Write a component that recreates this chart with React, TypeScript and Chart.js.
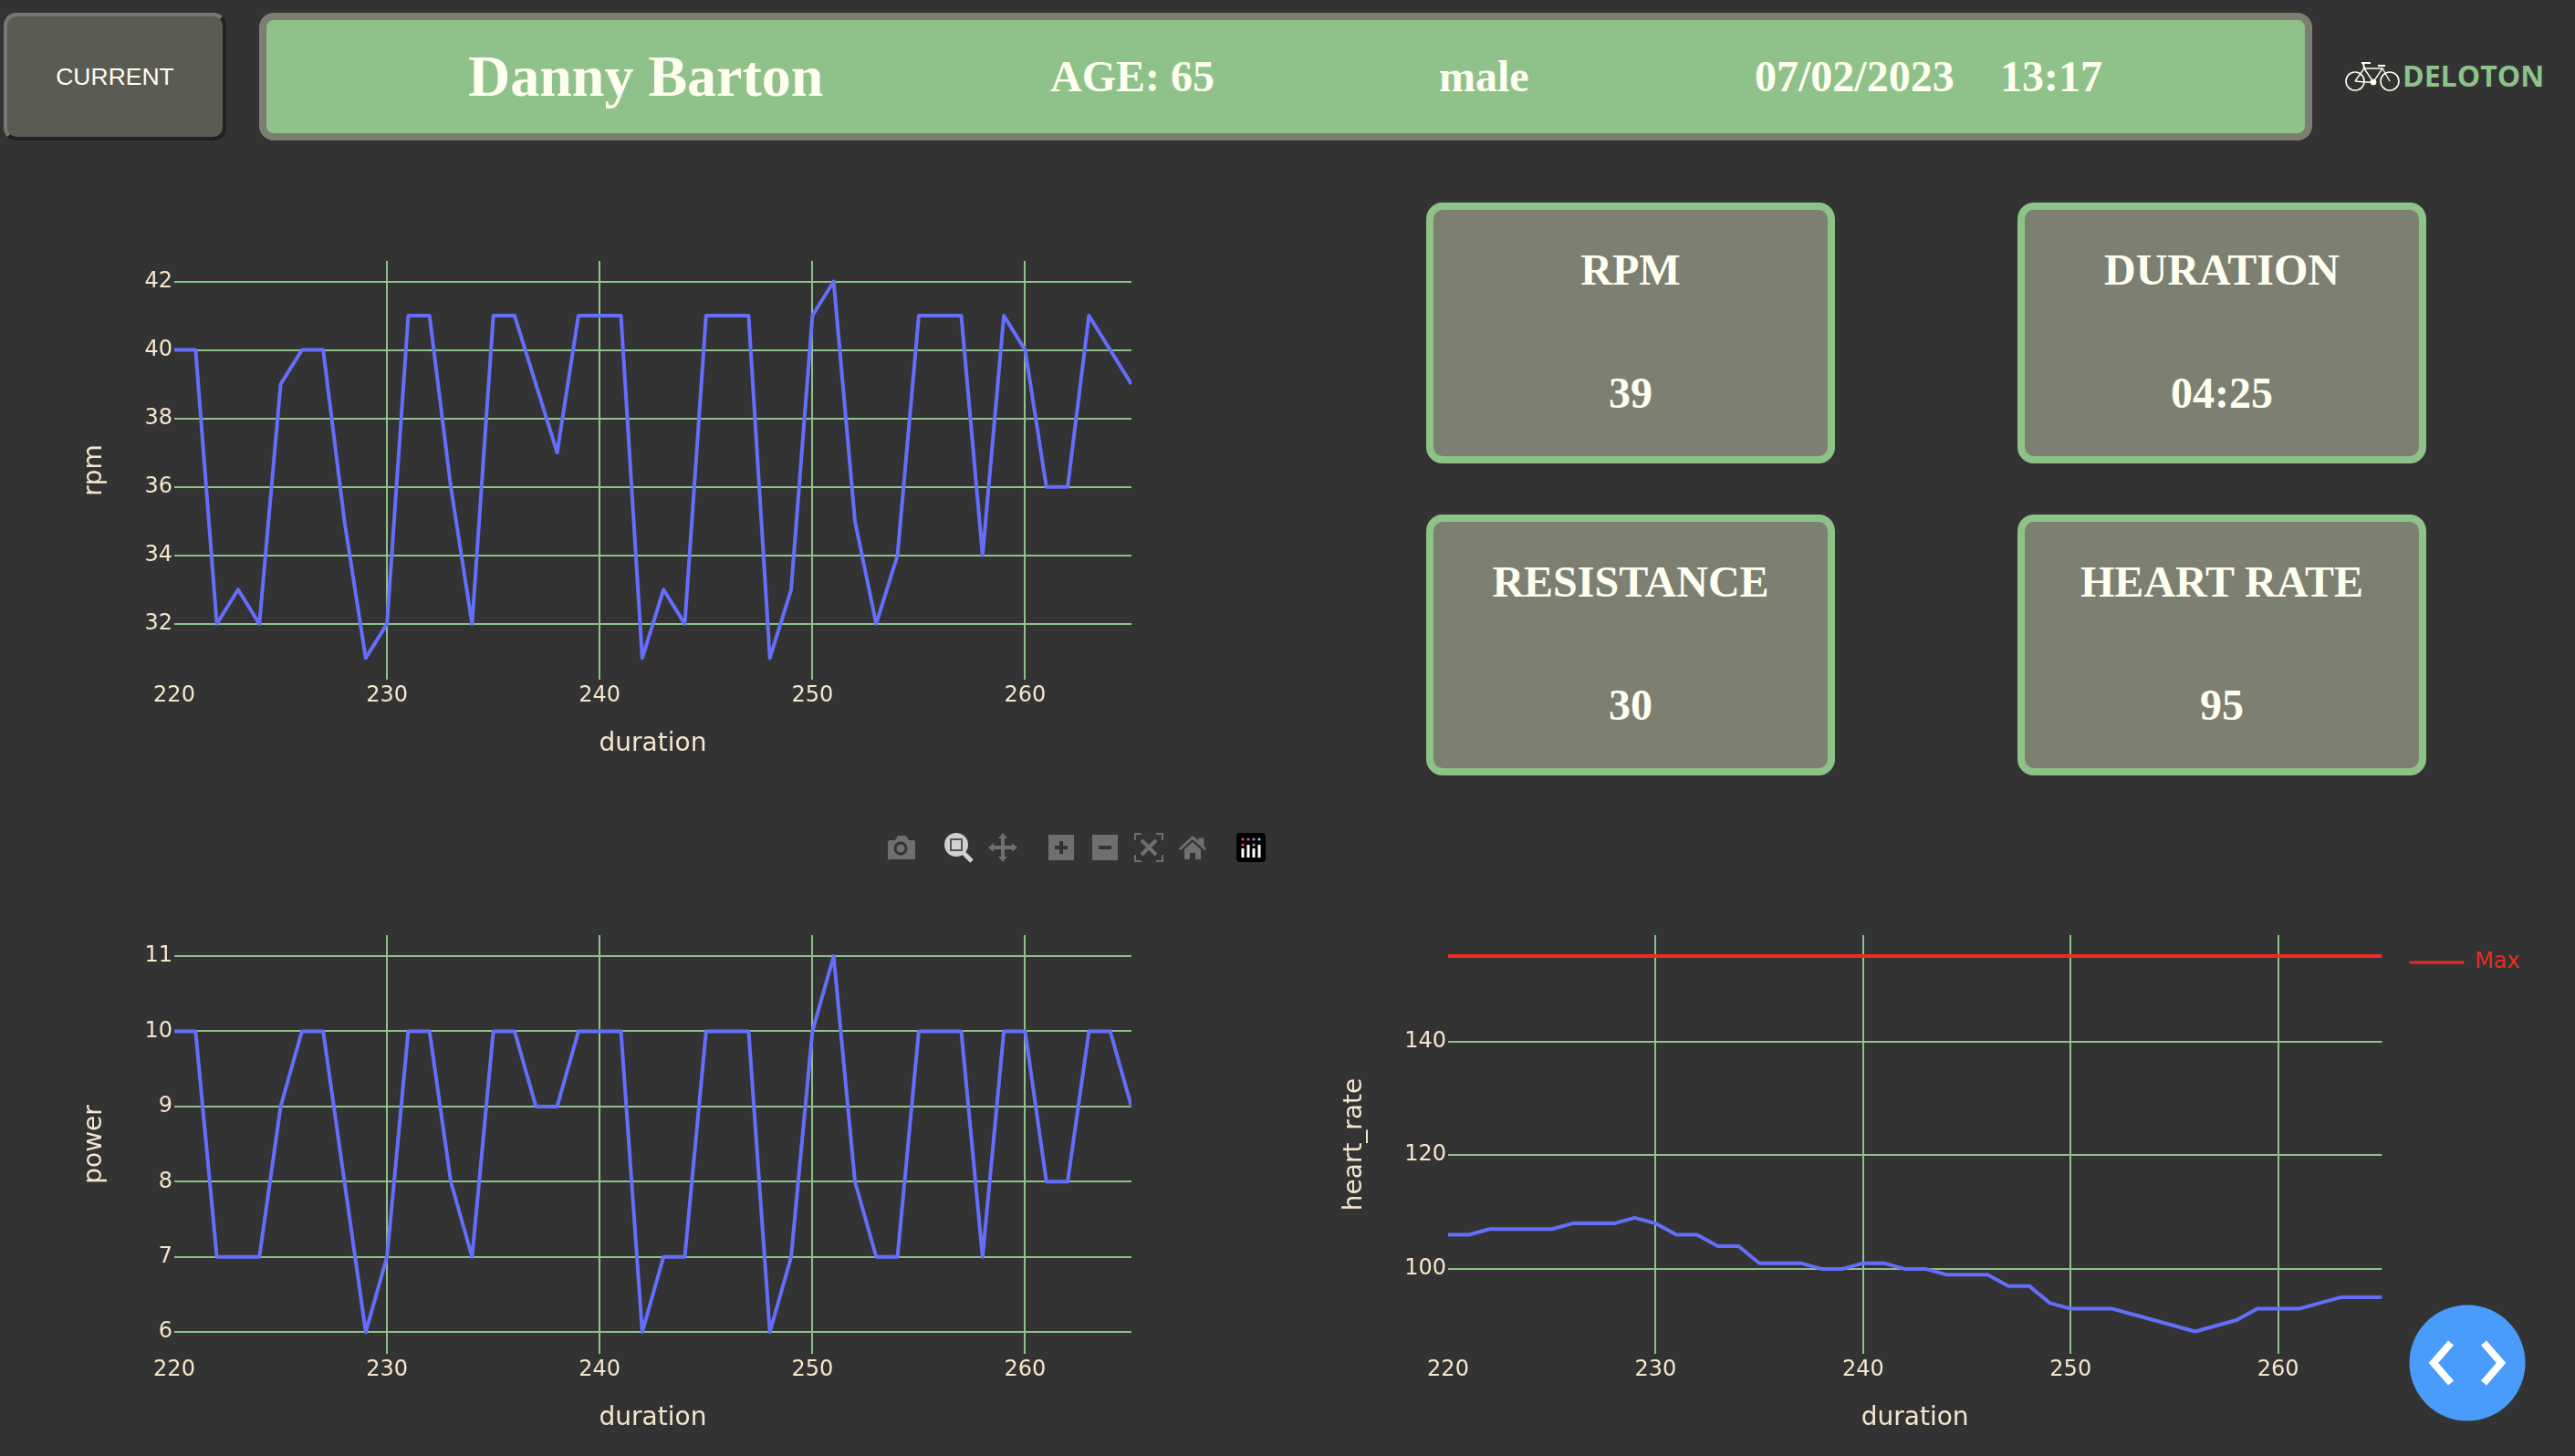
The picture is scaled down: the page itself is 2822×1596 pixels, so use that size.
import { Chart, registerables } from "chart.js"
import { useEffect, useRef } from "react"

Chart.register(...registerables)

const durations = [
	220, 221, 222, 223, 224, 225, 226, 227, 228, 229, 230, 231, 232, 233, 234, 235, 236, 237, 238, 239, 240, 241, 242,
	243, 244, 245, 246, 247, 248, 249, 250, 251, 252, 253, 254, 255, 256, 257, 258, 259, 260, 261, 262, 263, 264, 265
]
const rpmValues = [
	40, 40, 32, 33, 32, 39, 40, 40, 35, 31, 32, 41, 41, 36, 32, 41, 41, 39, 37, 41, 41, 41, 31, 33, 32, 41, 41, 41, 31,
	33, 41, 42, 35, 32, 34, 41, 41, 41, 34, 41, 40, 36, 36, 41, 40, 39
]
const powerValues = [
	10, 10, 7, 7, 7, 9, 10, 10, 8, 6, 7, 10, 10, 8, 7, 10, 10, 9, 9, 10, 10, 10, 6, 7, 7, 10, 10, 10, 6, 7, 10, 11, 8, 7,
	7, 10, 10, 10, 7, 10, 10, 8, 8, 10, 10, 9
]
const heartRateValues = [
	106, 106, 107, 107, 107, 107, 108, 108, 108, 109, 108, 106, 106, 104, 104, 101, 101, 101, 100, 100, 101, 101, 100,
	100, 99, 99, 99, 97, 97, 94, 93, 93, 93, 92, 91, 90, 89, 90, 91, 93, 93, 93, 94, 95, 95, 95
]
const maxDurations = [220, 265]
const maxValues = [155, 155]

const statCards = [
	{ title: "RPM", value: "39", left: 1563, top: 222 },
	{ title: "DURATION", value: "04:25", left: 2211, top: 222 },
	{ title: "RESISTANCE", value: "30", left: 1563, top: 564 },
	{ title: "HEART RATE", value: "95", left: 2211, top: 564 }
]
const headerTexts = [
	{ text: "Danny Barton", left: 513, size: 64 },
	{ text: "AGE: 65", left: 1151, size: 48 },
	{ text: "male", left: 1577, size: 48 },
	{ text: "07/02/2023", left: 1923, size: 48 },
	{ text: "13:17", left: 2192, size: 48 }
]

const LINE = "#636efa"
const RED = "#ee2d22"
const GRID = "#8dc289"
const CREAM = "#f5e6cc"
const IVORY = "#fffff0"
const FONT = '"DejaVu Sans", sans-serif'

function points(xs: number[], ys: number[]) {
	return xs.map((x, i) => ({ x, y: ys[i] }))
}

function LineChart({
	yLabel,
	values,
	yMin,
	yMax,
	yStep,
	left,
	top,
	width,
	height,
	axisWidth,
	withMax
}: {
	yLabel: string
	values: number[]
	yMin: number
	yMax: number
	yStep: number
	left: number
	top: number
	width: number
	height: number
	axisWidth: number
	withMax?: boolean
}) {
	const canvasRef = useRef<HTMLCanvasElement>(null)

	useEffect(() => {
		const ctx = canvasRef.current?.getContext("2d") as CanvasRenderingContext2D
		const datasets: any[] = [
			{
				label: yLabel,
				data: points(durations, values),
				borderColor: LINE,
				backgroundColor: LINE,
				borderWidth: 4,
				pointRadius: 0,
				borderJoinStyle: "round"
			}
		]
		if (withMax) {
			datasets.push({
				label: "Max",
				data: points(maxDurations, maxValues),
				borderColor: RED,
				backgroundColor: RED,
				borderWidth: 4,
				pointRadius: 0
			})
		}
		const chart = new Chart(ctx, {
			type: "line",
			data: { datasets },
			options: {
				animation: false,
				responsive: false,
				events: [],
				plugins: {
					title: withMax
						? { display: true, text: "", font: { size: 0 }, padding: { top: 0, bottom: 12 } }
						: { display: false },
					tooltip: { enabled: false },
					legend: {
						display: !!withMax,
						position: "right",
						align: "start",
						labels: {
							color: RED,
							font: { family: FONT, size: 24 },
							boxWidth: 60,
							boxHeight: 3,
							padding: 30,
							generateLabels: (c: any) =>
								Chart.defaults.plugins.legend.labels
									.generateLabels(c)
									.filter((item: any) => item.text === "Max")
									.map((item: any) => ({ ...item, lineWidth: 0 }))
						}
					}
				},
				scales: {
					x: {
						type: "linear",
						min: 220,
						max: 265,
						border: { display: false },
						grid: {
							color: (c: any) => (c.tick && c.tick.value === 220 ? "transparent" : GRID),
							lineWidth: 2,
							drawTicks: false
						},
						ticks: {
							stepSize: 10,
							includeBounds: false,
							maxRotation: 0,
							color: CREAM,
							padding: 3,
							font: { family: FONT, size: 24 }
						},
						title: {
							display: true,
							text: "duration",
							color: CREAM,
							padding: 0,
							font: { family: FONT, size: 28 }
						},
						afterFit: (scale: any) => {
							scale.height = 88
						}
					},
					y: {
						min: yMin,
						max: yMax,
						border: { display: false },
						grid: { color: GRID, lineWidth: 2, drawTicks: false },
						ticks: {
							stepSize: yStep,
							includeBounds: false,
							color: CREAM,
							padding: 2,
							font: { family: FONT, size: 24 }
						},
						title: {
							display: true,
							text: yLabel,
							color: CREAM,
							padding: 0,
							font: { family: FONT, size: 28 }
						},
						afterFit: (scale: any) => {
							scale.width = axisWidth
							scale.paddingTop = 0
							scale.paddingBottom = 0
						}
					}
				}
			}
		} as any)

		return () => {
			chart.destroy()
		}
	}, [])

	return (
		<canvas ref={canvasRef} width={width} height={height} style={{ position: "absolute", left, top, width, height }}>
			Your browser does not support the canvas element.
		</canvas>
	)
}

function ModeBar() {
	const grey = "#6f6f6f"
	return (
		<svg style={{ position: "absolute", left: 960, top: 905, width: 440, height: 50 }} viewBox="960 905 440 50">
			{/* camera */}
			<path
				d="M975 921h6l3-5h9l3 5h5a2 2 0 0 1 2 2v18a1 1 0 0 1-1 1h-27a1 1 0 0 1-2-1v-18a2 2 0 0 1 2-2z"
				fill={grey}
			/>
			<circle cx="987" cy="930" r="6" fill="none" stroke="#333" strokeWidth="3" />
			{/* zoom, active */}
			<circle cx="1048" cy="926" r="13" fill="#d0d0d0" />
			<rect x="1042" y="920" width="12" height="12" fill="#d0d0d0" stroke="#555" strokeWidth="2" />
			<path d="M1056 935l9 9" stroke="#d0d0d0" strokeWidth="5" />
			{/* pan */}
			<path
				d="M1099 913l5 6h-3v8h8v-3l6 5-6 5v-3h-8v8h3l-5 6-5-6h3v-8h-8v3l-6-5 6-5v3h8v-8h-3z"
				fill={grey}
			/>
			{/* zoom in, zoom out */}
			<rect x="1149" y="915" width="28" height="28" fill={grey} />
			<path d="M1163 922v14M1156 929h14" stroke="#333" strokeWidth="4" />
			<rect x="1197" y="915" width="28" height="28" fill={grey} />
			<path d="M1204 929h14" stroke="#333" strokeWidth="4" />
			{/* autoscale */}
			<path
				d="M1251 914h-7v7M1267 914h7v7M1251 944h-7v-7M1267 944h7v-7"
				fill="none"
				stroke={grey}
				strokeWidth="2"
			/>
			<path d="M1251 921l16 16M1267 921l-16 16" stroke={grey} strokeWidth="4" />
			{/* home */}
			<path d="M1293 931l14-13 8 7v-5h3v8l3 3" fill="none" stroke={grey} strokeWidth="3" />
			<path d="M1298 931l9-8 9 8v11h-6v-7h-6v7h-6z" fill={grey} />
			{/* plotly logo */}
			<rect x="1355" y="913" width="32" height="32" rx="4" fill="#000" />
			<path d="M1362 930v10M1368 926v14M1374 930v10M1380 926v14" stroke="#fff" strokeWidth="3" />
			<circle cx="1362" cy="920" r="1.6" fill="#ef476f" />
			<circle cx="1368" cy="920" r="1.6" fill="#e056a0" />
			<circle cx="1374" cy="920" r="1.6" fill="#a78bda" />
			<circle cx="1380" cy="920" r="1.6" fill="#7fd4f0" />
			<circle cx="1362" cy="926" r="1.6" fill="#ef476f" />
			<circle cx="1374" cy="926" r="1.6" fill="#a78bda" />
		</svg>
	)
}

function BikeLogo() {
	return (
		<svg
			style={{ position: "absolute", left: 2568, top: 64, width: 64, height: 38 }}
			viewBox="0 0 64 38"
			fill="none"
			stroke={IVORY}
		>
			<circle cx="13" cy="25" r="10" strokeWidth="1.6" />
			<circle cx="51" cy="25" r="10" strokeWidth="1.6" />
			<path d="M13 25L23 11H43L33 26H24L13 25M23 11l10 15M43 11l8 14" strokeWidth="1.4" />
			<path d="M20 5h10M22 5l1 6M38 8h8" strokeWidth="2" />
			<circle cx="33" cy="26" r="3" fill={IVORY} />
		</svg>
	)
}

export default function App() {
	useEffect(() => {
		document.body.style.margin = "0"
		document.body.style.background = "#333333"
	}, [])

	return (
		<div style={{ position: "absolute", left: 0, top: 0, width: 2822, height: 1596, background: "#333333", overflow: "hidden" }}>
			<div
				style={{
					position: "absolute",
					left: 4,
					top: 14,
					width: 244,
					height: 140,
					boxSizing: "border-box",
					background: "#5a5b53",
					borderRadius: 14,
					borderStyle: "solid",
					borderWidth: 4,
					borderColor: "#77786f #222222 #222222 #77786f",
					color: IVORY,
					font: '26.5px/132px "Liberation Sans", sans-serif',
					textAlign: "center"
				}}
			>
				CURRENT
			</div>

			<div
				style={{
					position: "absolute",
					left: 284,
					top: 14,
					width: 2250,
					height: 140,
					boxSizing: "border-box",
					background: "#8fc28a",
					border: "8px solid #7c7e70",
					borderRadius: 16
				}}
			/>
			{headerTexts.map((h) => (
				<span
					key={h.text}
					style={{
						position: "absolute",
						left: h.left,
						top: 44,
						font: `bold ${h.size}px/80px "Liberation Serif", serif`,
						color: IVORY,
						whiteSpace: "nowrap"
					}}
				>
					{h.text}
				</span>
			))}

			<BikeLogo />
			<span
				style={{
					position: "absolute",
					left: 2633,
					top: 63,
					font: 'bold 32px/40px "Open Sans", sans-serif',
					color: "#8dc289"
				}}
			>
				DELOTON
			</span>

			{statCards.map((c) => (
				<div
					key={c.title}
					style={{
						position: "absolute",
						left: c.left,
						top: c.top,
						width: 448,
						height: 286,
						boxSizing: "border-box",
						background: "#7d7f71",
						border: "8px solid #8dc289",
						borderRadius: 18,
						color: IVORY,
						textAlign: "center",
						font: 'bold 48px/60px "Liberation Serif", serif'
					}}
				>
					<div style={{ position: "absolute", left: 0, right: 0, top: 36 }}>{c.title}</div>
					<div style={{ position: "absolute", left: 0, right: 0, top: 171 }}>{c.value}</div>
				</div>
			))}

			<LineChart
				yLabel="rpm"
				values={rpmValues}
				yMin={30.37}
				yMax={42.6}
				yStep={2}
				left={87}
				top={286}
				width={1153}
				height={547}
				axisWidth={104}
			/>
			<LineChart
				yLabel="power"
				values={powerValues}
				yMin={5.71}
				yMax={11.28}
				yStep={1}
				left={87}
				top={1025}
				width={1153}
				height={547}
				axisWidth={104}
			/>
			<LineChart
				yLabel="heart_rate"
				values={heartRateValues}
				yMin={85.07}
				yMax={158.7}
				yStep={20}
				left={1468}
				top={1013}
				width={1304}
				height={559}
				axisWidth={119}
				withMax
			/>

			<ModeBar />

			<svg style={{ position: "absolute", left: 2640, top: 1430, width: 128, height: 128 }} viewBox="0 0 128 128">
				<circle cx="64" cy="64" r="63.5" fill="#4a9cfa" />
				<path d="M46 42L27 64l19 22M82 42l19 22-19 22" fill="none" stroke="#fff" strokeWidth="8" />
			</svg>
		</div>
	)
}
